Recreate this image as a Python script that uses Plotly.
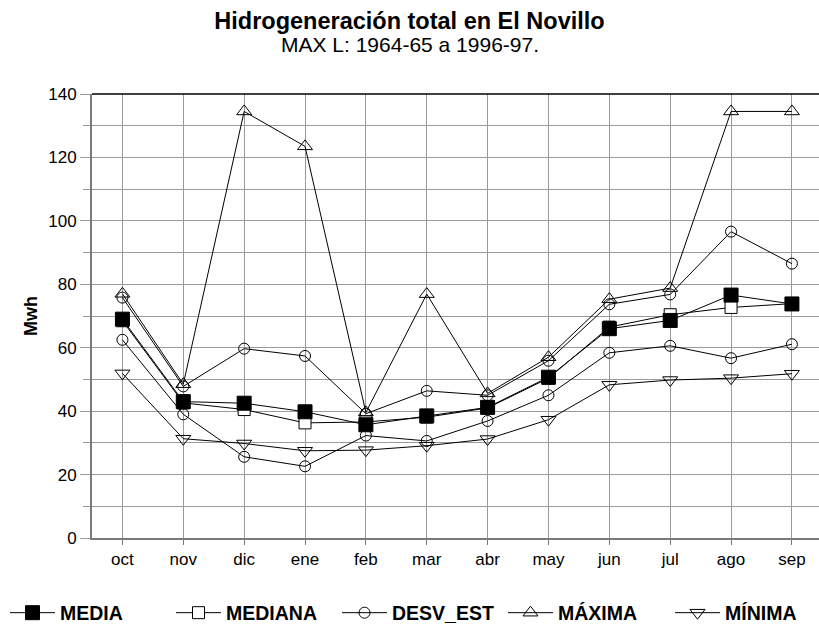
import plotly.graph_objects as go

# Meses del año hidrológico (octubre a septiembre)
meses = ["oct", "nov", "dic", "ene", "feb", "mar", "abr", "may", "jun", "jul", "ago", "sep"]

# Hidrogeneración mensual (Mwh)
media = [69.0, 43.0, 42.5, 39.8, 35.7, 38.5, 41.2, 50.7, 66.0, 68.6, 76.6, 73.8]
mediana = [68.5, 42.6, 40.5, 36.3, 36.6, 38.1, 41.0, 50.4, 66.5, 70.4, 72.7, 73.9]
desv_sup = [75.8, 47.8, 59.7, 57.4, 39.2, 46.4, 45.0, 55.9, 73.7, 76.8, 96.6, 86.5]
desv_inf = [62.5, 39.0, 25.6, 22.6, 32.3, 30.6, 36.9, 45.0, 58.4, 60.6, 56.7, 61.1]
maxima = [77.0, 48.5, 134.5, 123.5, 39.6, 76.9, 45.6, 57.0, 75.3, 78.8, 134.5, 134.5]
minima = [51.9, 31.3, 29.8, 27.5, 27.7, 29.1, 31.2, 37.3, 48.3, 49.8, 50.4, 51.8]

titulo = "Hidrogeneración total en El Novillo"
subtitulo = "MAX L: 1964-65 a 1996-97."

FONT = "Liberation Sans, Arial, sans-serif"
LINE = dict(color="black", width=1)

fig = go.Figure()

# Drawn bottom-to-top so that MEDIA stays on top of the other series
fig.add_trace(go.Scatter(
    x=meses, y=minima, name="MÍNIMA", mode="lines+markers", legend="legend2",
    line=LINE,
    marker=dict(symbol="triangle-down-open", size=13, color="black", line=dict(width=1)),
))
fig.add_trace(go.Scatter(
    x=meses, y=maxima, name="MÁXIMA", mode="lines+markers", legendrank=4,
    line=LINE,
    marker=dict(symbol="triangle-up-open", size=13, color="black", line=dict(width=1)),
))
fig.add_trace(go.Scatter(
    x=meses, y=desv_inf, name="DESV_EST", mode="lines+markers", legendrank=3,
    legendgroup="desv", showlegend=False,
    line=LINE,
    marker=dict(symbol="circle-open", size=11, color="black", line=dict(width=1)),
))
fig.add_trace(go.Scatter(
    x=meses, y=desv_sup, name="DESV_EST", mode="lines+markers", legendrank=3,
    legendgroup="desv",
    line=LINE,
    marker=dict(symbol="circle-open", size=11, color="black", line=dict(width=1)),
))
fig.add_trace(go.Scatter(
    x=meses, y=mediana, name="MEDIANA", mode="lines+markers", legendrank=2,
    line=LINE,
    marker=dict(symbol="square", size=12, color="white", line=dict(color="black", width=1)),
))
fig.add_trace(go.Scatter(
    x=meses, y=media, name="MEDIA", mode="lines+markers", legendrank=1,
    line=LINE,
    marker=dict(symbol="square", size=14, color="black", line=dict(color="black", width=1)),
))

legend_style = dict(
    orientation="h", xref="container", xanchor="left",
    yref="container", y=15 / 628, yanchor="middle",
    itemwidth=45, entrywidth=106, entrywidthmode="pixels",
    font=dict(size=19.5, color="black", family=FONT, weight="bold"),
    bgcolor="rgba(0,0,0,0)", traceorder="normal",
)

fig.update_layout(
    width=819, height=628,
    margin=dict(l=92, r=0, t=94, b=90),
    paper_bgcolor="white", plot_bgcolor="white",
    font=dict(family=FONT, color="black", size=17),
    title=dict(
        text="<b>" + titulo + "</b>",
        font=dict(size=23.5, color="black"),
        x=0.5, xref="container", xanchor="center",
        y=1 - 21 / 628, yref="container", yanchor="middle",
    ),
    xaxis=dict(
        range=[-0.5, 11.445],
        showgrid=True, gridcolor="#9a9a9a", gridwidth=1,
        showline=True, linecolor="#7a7a7a", linewidth=2,
        ticks="outside", ticklen=5, tickcolor="#7a7a7a",
        tickfont=dict(size=17), zeroline=False,
    ),
    yaxis=dict(
        range=[0, 140], tick0=0, dtick=20,
        title=dict(text="<b>Mwh</b>", font=dict(size=18), standoff=6),
        showgrid=True, gridcolor="#9a9a9a", gridwidth=1,
        showline=True, linecolor="#7a7a7a", linewidth=2,
        ticks="outside", ticklen=10, tickcolor="#9a9a9a",
        minor=dict(dtick=10, showgrid=True, gridcolor="#9a9a9a", ticks="outside",
                   ticklen=7, tickcolor="#9a9a9a"),
        tickfont=dict(size=17), zeroline=False,
    ),
    legend=dict(legend_style, x=5 / 819),
    legend2=dict(legend_style, x=670 / 819),
    showlegend=True,
)

# Subtitle line under the main title
fig.add_annotation(
    text=subtitulo, xref="paper", yref="paper",
    x=(410 - 92) / 727, y=1 + (94 - 44) / 444, xanchor="center", yanchor="middle",
    showarrow=False, font=dict(size=21, color="black", family=FONT),
)

# Black frame line along the top of the plotting area
fig.add_shape(type="line", xref="paper", yref="paper", x0=0, x1=1, y0=1, y1=1,
              line=dict(color="black", width=1.5), layer="above")

fig.write_html("out.html")
